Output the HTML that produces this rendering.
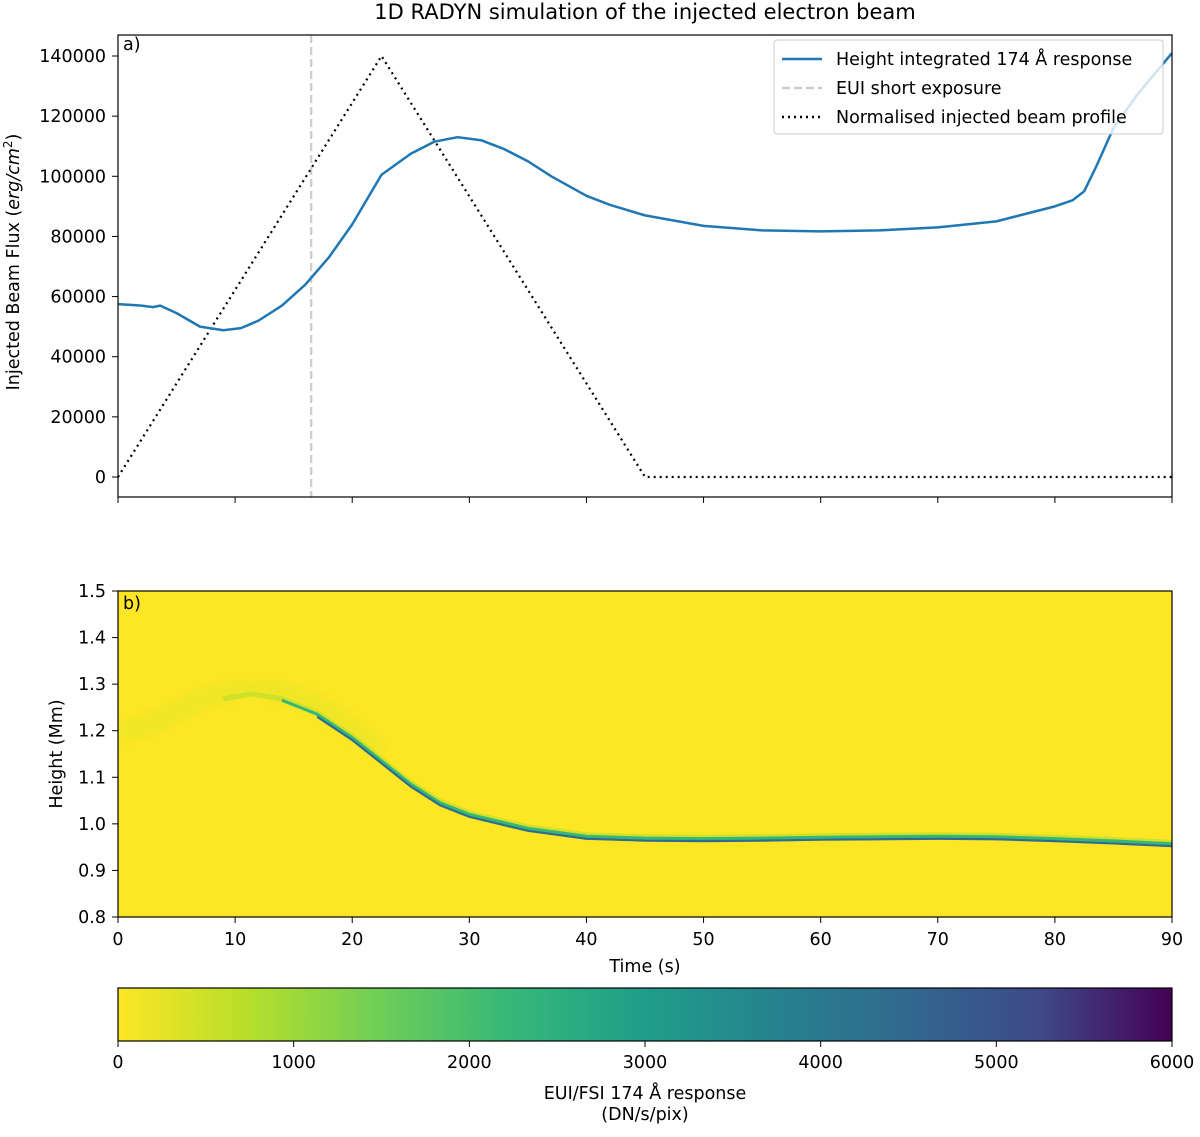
<!DOCTYPE html>
<html><head><meta charset="utf-8"><style>
body{margin:0;background:#fff;}
svg{font-family:"DejaVu Sans","Liberation Sans",sans-serif;}
</style></head><body>
<svg id="chart" width="1200" height="1132" viewBox="0 0 1200 1132" xmlns="http://www.w3.org/2000/svg">
<defs>
<linearGradient id="viridis" x1="0" x2="1" y1="0" y2="0">
<stop offset="0" stop-color="#fde725"/><stop offset="0.125" stop-color="#b5de2b"/><stop offset="0.25" stop-color="#6ece58"/><stop offset="0.375" stop-color="#35b779"/><stop offset="0.5" stop-color="#1f9e89"/><stop offset="0.625" stop-color="#26828e"/><stop offset="0.75" stop-color="#31688e"/><stop offset="0.875" stop-color="#3e4989"/><stop offset="1" stop-color="#440154"/>
</linearGradient>
<filter id="blur"><feGaussianBlur stdDeviation="5"/></filter>
<clipPath id="clipB"><rect x="118" y="591" width="1054" height="326"/></clipPath>
<clipPath id="clipA"><rect x="118" y="35" width="1054" height="462"/></clipPath>
</defs>
<text x="645" y="19" font-size="21" text-anchor="middle">1D RADYN simulation of the injected electron beam</text>
<g id="topPanel"></g>
<g id="bottomPanel"></g>
<g id="cbar"></g>
</svg>
<script>
const fluxTimes=[0,2,3,3.6,5,7,9,10.5,12,14,16,18,20,22.5,25,27,29,31,33,35,37,40,42,45,50,55,60,65,70,75,78,80,81.5,82.5,83.5,85,87,88.5,90];
const fluxValues=[57500,57000,56500,57000,54500,50000,48800,49500,52000,57000,64000,73000,84000,100500,107500,111500,113000,112000,109000,105000,100000,93500,90500,87000,83500,82000,81700,82000,83000,85000,88000,90000,92000,95000,103000,116000,127000,134000,141000];
const beamTimes=[0,22.5,45,90];
const beamValues=[0,140000,0,0];
const exposureTime=16.5;
const yTicksA=[0,20000,40000,60000,80000,100000,120000,140000];
const xTicks=[0,10,20,30,40,50,60,70,80,90];
const bandTimes=[0,3,6,9,11.4,14,17,20,22.5,25,27.5,30,32.5,35,40,45,50,55,60,65,70,75,80,85,90];
const bandHeights=[1.17,1.19,1.23,1.26,1.27,1.26,1.23,1.18,1.13,1.08,1.04,1.015,1.0,0.985,0.968,0.964,0.963,0.964,0.966,0.967,0.968,0.967,0.963,0.958,0.952];
const yTicksB=[0.8,0.9,1.0,1.1,1.2,1.3,1.4,1.5];
const cbTicks=[0,1000,2000,3000,4000,5000,6000];
const NS="http://www.w3.org/2000/svg";
function mk(p,t,a){const e=document.createElementNS(NS,t);for(const k in a)e.setAttribute(k,a[k]);p.appendChild(e);return e;}
const X=t=>118+(t/90)*1054;
const YA=v=>477-v/140000*421;
const YB=h=>917-(h-0.8)/0.7*326;
const FS=17.5;
const topG=document.getElementById('topPanel'),bot=document.getElementById('bottomPanel'),cb=document.getElementById('cbar');
let g=mk(topG,'g',{'clip-path':'url(#clipA)'});
let l=mk(g,'line',{x1:X(exposureTime),x2:X(exposureTime),y1:35,y2:497,stroke:'#cccccc','stroke-width':2.2,'stroke-dasharray':'8,4'});


let p=mk(g,'polyline',{points:beamTimes.map((t,i)=>X(t)+','+YA(beamValues[i])).join(' '),fill:'none',stroke:'#000','stroke-width':2.2,'stroke-dasharray':'2,4'});


p=mk(g,'polyline',{points:fluxTimes.map((t,i)=>X(t)+','+YA(fluxValues[i])).join(' '),fill:'none',stroke:'#1f77b4','stroke-width':2.5,'stroke-linejoin':'round'});


mk(topG,'rect',{x:118,y:35,width:1054,height:462,fill:'none',stroke:'#000','stroke-width':1.2});
yTicksA.forEach(v=>{mk(topG,'line',{x1:112,x2:118,y1:YA(v),y2:YA(v),stroke:'#000'});
let t=mk(topG,'text',{x:106,y:YA(v)+6,'font-size':FS,'text-anchor':'end'});t.textContent=v;

});
xTicks.forEach(v=>mk(topG,'line',{x1:X(v),x2:X(v),y1:497,y2:503,stroke:'#000'}));
let tt=mk(topG,'text',{x:0,y:0,'font-size':FS,'text-anchor':'middle',transform:'translate(19,262) rotate(-90)'});
tt.innerHTML='Injected Beam Flux (<tspan font-style="italic">erg/cm</tspan><tspan font-size="12" dy="-7">2</tspan><tspan dy="7">)</tspan>';


tt=mk(topG,'text',{x:123,y:50,'font-size':FS});tt.textContent='a)';
let lg=mk(topG,'g',{});


mk(lg,'rect',{x:774,y:40,width:389,height:94,rx:3,fill:'#fff','fill-opacity':0.8,stroke:'#ccc'});
const leg=[['Height integrated 174 Å response','#1f77b4',''],['EUI short exposure','#ccc','8,4'],['Normalised injected beam profile','#000','2,4']];
leg.forEach((e,i)=>{const y=59+i*29;mk(lg,'line',{x1:782,x2:822,y1:y,y2:y,stroke:e[1],'stroke-width':2.5,'stroke-dasharray':e[2]});
const t=mk(lg,'text',{x:836,y:y+6,'font-size':FS});t.textContent=e[0];});
mk(bot,'rect',{x:118,y:591,width:1054,height:326,fill:'#fde725'});
g=mk(bot,'g',{'clip-path':'url(#clipB)'});
// faint early glow
const earlyIdx=bandTimes.map((t,i)=>i).filter(i=>bandTimes[i]<=22.5);
mk(g,'polyline',{points:earlyIdx.map(i=>X(bandTimes[i])+','+(YB(bandHeights[i])-12)).join(' '),fill:'none',stroke:'#d6e22b','stroke-width':22,'stroke-opacity':0.35,filter:'url(#blur)'});
const lateIdx=bandTimes.map((t,i)=>i).filter(i=>bandTimes[i]>=9);
mk(g,'polyline',{points:lateIdx.map(i=>X(bandTimes[i])+','+(YB(bandHeights[i])-4)).join(' '),fill:'none',stroke:'#b5de2b','stroke-width':5,'stroke-opacity':0.6});
const midIdx=bandTimes.map((t,i)=>i).filter(i=>bandTimes[i]>=14);
mk(g,'polyline',{points:midIdx.map(i=>X(bandTimes[i])+','+(YB(bandHeights[i])-2.5)).join(' '),fill:'none',stroke:'#35b779','stroke-width':3});
const darkIdx=bandTimes.map((t,i)=>i).filter(i=>bandTimes[i]>=17);
p=mk(g,'polyline',{points:darkIdx.map(i=>X(bandTimes[i])+','+YB(bandHeights[i])).join(' '),fill:'none',stroke:'#2f6b8e','stroke-width':2.2});


mk(bot,'rect',{x:118,y:591,width:1054,height:326,fill:'none',stroke:'#000','stroke-width':1.2});
yTicksB.forEach(v=>{mk(bot,'line',{x1:112,x2:118,y1:YB(v),y2:YB(v),stroke:'#000'});
let t=mk(bot,'text',{x:106,y:YB(v)+6,'font-size':FS,'text-anchor':'end'});t.textContent=v.toFixed(1);

});
xTicks.forEach(v=>{mk(bot,'line',{x1:X(v),x2:X(v),y1:917,y2:923,stroke:'#000'});
let t=mk(bot,'text',{x:X(v),y:945,'font-size':FS,'text-anchor':'middle'});t.textContent=v;

});
tt=mk(bot,'text',{x:645,y:972,'font-size':FS,'text-anchor':'middle'});tt.textContent='Time (s)';
tt=mk(bot,'text',{x:0,y:0,'font-size':FS,'text-anchor':'middle',transform:'translate(62,754) rotate(-90)'});tt.textContent='Height (Mm)';
tt=mk(bot,'text',{x:123,y:609,'font-size':FS});tt.textContent='b)';
mk(cb,'rect',{x:118,y:988,width:1054,height:53,fill:'url(#viridis)',stroke:'#000','stroke-width':1.2});
cbTicks.forEach(v=>{const x=118+v/6000*1054;mk(cb,'line',{x1:x,x2:x,y1:1041,y2:1047,stroke:'#000'});
let t=mk(cb,'text',{x:x,y:1068,'font-size':FS,'text-anchor':'middle'});t.textContent=v;

});
tt=mk(cb,'text',{x:645,y:1099,'font-size':FS,'text-anchor':'middle'});tt.textContent='EUI/FSI 174 Å response';
tt=mk(cb,'text',{x:645,y:1120,'font-size':FS,'text-anchor':'middle'});tt.textContent='(DN/s/pix)';
</script>
</body></html>
